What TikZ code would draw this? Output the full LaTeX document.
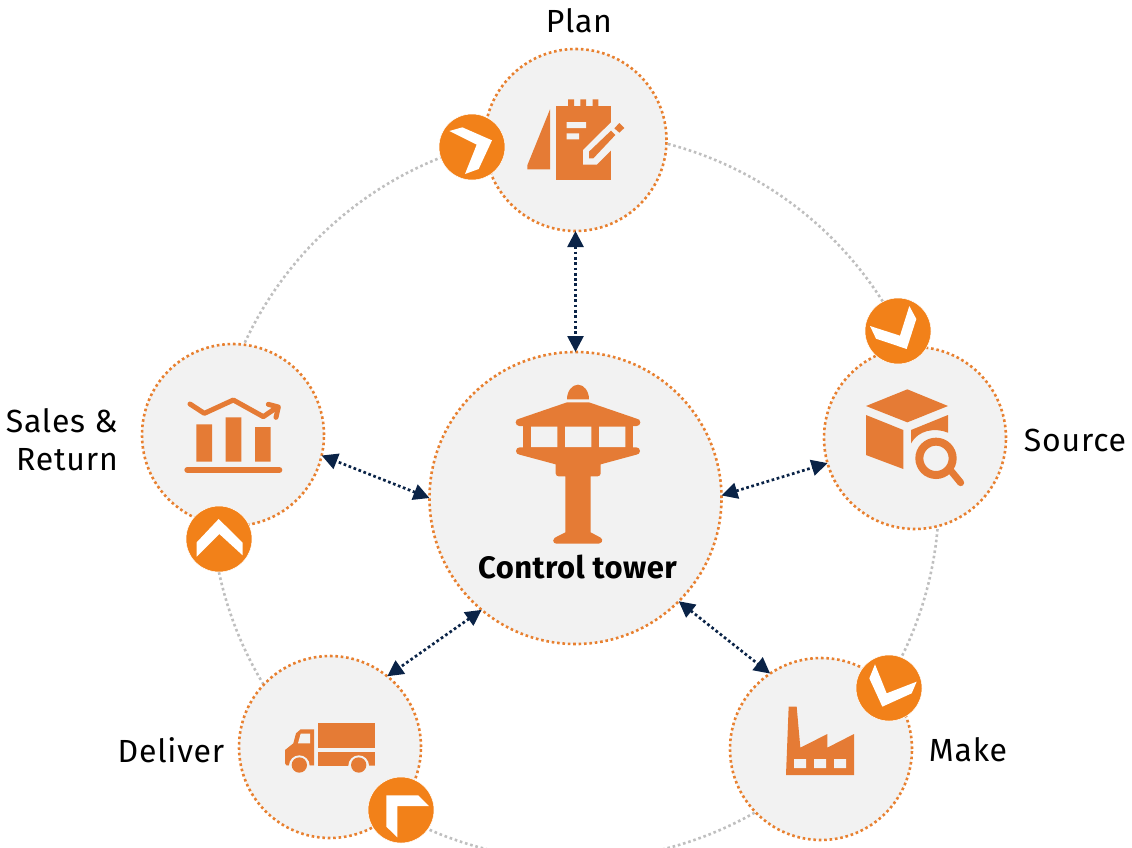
\documentclass[tikz,border=0pt]{standalone}
\usepackage{fontspec}
\setmainfont{Fira Sans}
\newfontfamily\tracked[LetterSpace=2.5]{Fira Sans}
\newfontfamily\trackedb[LetterSpace=1.5,BoldFont={Fira Sans Bold}]{Fira Sans}
\usetikzlibrary{arrows.meta}
\definecolor{iconc}{HTML}{E57B35}
\definecolor{badgec}{HTML}{F28119}
\definecolor{dotc}{HTML}{E8802F}
\definecolor{discc}{HTML}{F2F2F2}
\definecolor{ringc}{HTML}{BFBFBF}
\definecolor{navyc}{HTML}{0A2347}
\tikzset{
  disc/.style={circle,fill=discc,draw=dotc,line width=2.6pt,dash pattern=on 2.6pt off 2.8pt,minimum size=182pt,inner sep=0pt,outer sep=0pt},
  ringline/.style={circle,draw=ringc,line width=2.6pt,dash pattern=on 2.6pt off 2.8pt,minimum size=728pt,inner sep=0pt,outer sep=0pt},
  badge/.style={circle,fill=badgec,draw=white,line width=0.5pt,minimum size=66pt,inner sep=0pt,outer sep=0pt},
  link/.style={draw=navyc,line width=2.7pt,dash pattern=on 2.7pt off 2.6pt,{Triangle[length=16pt,width=16pt]}-{Triangle[length=16pt,width=16pt]}},
  lab/.style={font=\tracked\fontsize{32}{38}\selectfont,text=black,inner sep=0pt,align=right},
  ico/.style={fill=iconc,draw=none},
  cut/.style={fill=discc,draw=none},
  chev/.style={fill=white,draw=none},
  zoomed/.style={x=0.33333pt,y=-0.33333pt}
}
\begin{document}
\begin{tikzpicture}[x=1pt,y=-1pt]
\useasboundingbox (0,0) rectangle (1132,847);
\clip (0,0) rectangle (1132,847);
\node[ringline] (ring) at (575,496) {};
\node[disc] (plan) at (575.5,140) {};
\node[disc] (source) at (915,438) {};
\node[disc] (make) at (821,749) {};
\node[disc] (deliver) at (330,747) {};
\node[disc] (sales) at (233,435) {};
\node[disc,minimum size=292pt] (ctr) at (575.5,498) {};
% connectors
\draw[link] (plan.south) -- (ctr.north);
\draw[link] (ctr.1) -- (source.196);
\draw[link] (ctr.-45) -- (make.124);
\draw[link] (ctr.230) -- (deliver.51);
\draw[link] (ctr.180) -- (sales.-13);
% badges
\node[badge] (bplan) at (472,147) {};
\node[badge] (bsource) at (898,331) {};
\node[badge] (bmake) at (889,688) {};
\node[badge] (bdeliver) at (401,810) {};
\node[badge] (bsales) at (219,539) {};
\begin{scope}[shift={(430,60)},zoomed]
\fill[chev] (58,213)--(97,202)--(186,241)--(146,327)--(105,342)--(140,254)--cycle;
\fill[ico] (292,328)--(292,316)--(360,148)--(360,328)--cycle;
\fill[ico] (378,138) rectangle (544,360);
\fill[ico] (414,118) rectangle (432,140) (451,118) rectangle (468,140) (488,118) rectangle (505,140);
\fill[cut] (410,186) rectangle (468,204) (410,220) rectangle (447,238);
\fill[cut] (459,270)--(546,184)--(600,184)--(600,270)--(544,270)--(500,314)--(459,314)--cycle;
\fill[ico] (477,275)--(543,212)--(556,225)--(490,295)--(477,295)--cycle;
\fill[ico] (553,205)--(568,189)--(583,204)--(568,218)--cycle;
\end{scope}
\begin{scope}[shift={(840,290)},zoomed]
\fill[chev] (90,108)--(180,137)--(208,48)--(229,87)--(200,177)--(108,146)--cycle;
\fill[ico] (78,348)--(202,298)--(324,348)--(202,397)--cycle;
\fill[ico] (78,375)--(190,420)--(190,537)--(78,495)--cycle;
\fill[ico] (213,420)--(324,375)--(324,428) .. controls (285,412) and (235,420) .. (213,460)--cycle;
\draw[iconc,line width=8pt] (288,505) circle (50);
\draw[iconc,line width=7pt,line cap=round] (335,545)--(362,578);
\end{scope}
\begin{scope}[shift={(770,650)},zoomed]
\fill[chev] (298,85)--(315,43)--(350,130)--(440,95)--(425,130)--(337,170)--cycle;
\fill[ico] (48,375)--(56,170)--(80,170)--(91,293)--(172,252)--(172,293)--(252,252)--(252,375)--cycle;
\fill[cut] (72,327) rectangle (108,354) (132,327) rectangle (168,354) (192,327) rectangle (228,354);
\end{scope}
\begin{scope}[shift={(270,700)},zoomed]
\fill[chev] (349,286)--(445,286)--(477,318)--(382,318)--(382,412)--(349,380)--cycle;
\fill[ico] (143,70) rectangle (314,143);
\fill[ico] (143,155) rectangle (314,197);
\fill[ico] (132,88)--(132,197)--(50,197)--(45,190)--(45,150)--(70,130)--(78,100)--(92,88)--cycle;
\fill[cut] (92,101)--(120,101)--(120,130)--(84,130)--cycle;
\fill[cut] (88,197) circle (31) (266,197) circle (31);
\fill[cut] (40,197) rectangle (135,225) (235,197) rectangle (320,225);
\fill[ico] (88,195) circle (23) (266,195) circle (23);
\end{scope}
\begin{scope}[shift={(170,380)},zoomed]
\fill[chev] (80,487)--(146,417)--(218,488)--(218,526)--(148,462)--(80,530)--cycle;
\fill[ico] (79,133) rectangle (126,245) (167,112) rectangle (214,245) (255,141) rectangle (302,245);
\draw[iconc,line width=6pt,line cap=round] (52,270)--(328,270);
\draw[iconc,line width=5pt,line cap=round,line join=round] (60,72)--(103,100)--(190,60)--(280,110)--(318,84);
\draw[iconc,line width=5pt,line cap=round,line join=round] (295,73)--(325,81)--(318,112);
\end{scope}
\begin{scope}[shift={(490,370)},zoomed]
\fill[ico] (231,88) arc[start angle=180,end angle=360,x radius=33,y radius=44]--cycle;
\fill[ico] (231,97)--(297,97)--(440,146) arc[start angle=-90,end angle=90,radius=11]--(88,168) arc[start angle=90,end angle=270,radius=11]--cycle;
\fill[ico] (100,165) rectangle (428,236);
\fill[cut] (123,170) rectangle (202,232) (225,170) rectangle (304,232) (327,170) rectangle (406,232);
\fill[ico] (89,232)--(439,232) arc[start angle=-90,end angle=90,radius=11]--(332,283)--(332,310) arc[start angle=0,end angle=90,radius=9]--(302,319)--(302,487)--(332,503) arc[start angle=-60,end angle=90,radius=9.5]--(199,521) arc[start angle=90,end angle=240,radius=9.5]--(226,487)--(226,319)--(206,319) arc[start angle=90,end angle=180,radius=9]--(197,283)--(89,254) arc[start angle=90,end angle=270,radius=11]--cycle;
\end{scope}
% labels
\node[lab] (lplan) at (579,21) {Plan};
\node[lab] (lsource) at (1075,440) {Source};
\node[lab] (lmake) at (968,750) {Make};
\node[lab] (ldeliver) at (171,750) {Deliver};
\node[lab,anchor=east] (lsales) at (118,440) {Sales \&\\Return};
\node[font=\trackedb\fontsize{31}{38}\selectfont\bfseries,inner sep=0pt] (lctr) at (577.5,567) {Control tower};
\end{tikzpicture}
\end{document}
